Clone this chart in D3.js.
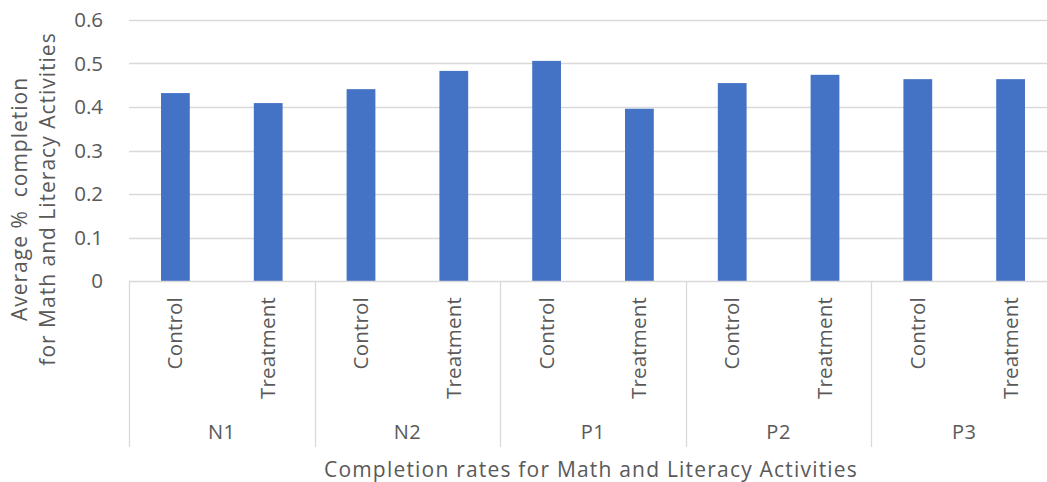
<!DOCTYPE html>
<html>
<head>
<meta charset="utf-8">
<script src="https://cdn.jsdelivr.net/npm/d3@7"></script>
<style>
  html, body { margin: 0; padding: 0; background: #fff; }
  svg { display: block; }
  text { font-family: "Open Sans", "Noto Sans", sans-serif; fill: #595959; }
</style>
</head>
<body>
<svg id="chart" width="1047" height="482"></svg>
<script>
const groups = ["N1", "N2", "P1", "P2", "P3"];
const conditions = ["Control", "Treatment"];
const controlValues = [0.432, 0.441, 0.506, 0.455, 0.464];
const treatmentValues = [0.409, 0.483, 0.396, 0.474, 0.464];
const yTicks = [0, 0.1, 0.2, 0.3, 0.4, 0.5, 0.6];
const xTitle = "Completion rates for Math and Literacy Activities";
const yTitleLines = ["Average %  completion", "for Math and Literacy Activities"];

(function () {
const svg = d3.select("#chart");
const plotLeft = 129, plotRight = 1057, plotTop = 20, plotBottom = 281, catBottom = 447;

const rows = [];
groups.forEach((g, i) => {
  rows.push({ group: g, cond: conditions[0], value: controlValues[i], key: g + "|" + conditions[0] });
  rows.push({ group: g, cond: conditions[1], value: treatmentValues[i], key: g + "|" + conditions[1] });
});

const y = d3.scaleLinear().domain([0, 0.6]).range([plotBottom, plotTop]);
const xGroup = d3.scaleBand().domain(groups).range([plotLeft, plotRight]).padding(0);
const xLeaf = d3.scaleBand().domain(rows.map(r => r.key)).range([plotLeft, plotRight])
  .paddingInner(0.69).paddingOuter(0.345);
const xSlot = d3.scaleBand().domain(rows.map(r => r.key)).range([plotLeft, plotRight]).padding(0);

// gridlines
svg.append("g").selectAll("line").data(yTicks.filter(t => t > 0)).join("line")
  .attr("x1", plotLeft).attr("x2", plotRight)
  .attr("y1", d => Math.round(y(d)) + 0.5).attr("y2", d => Math.round(y(d)) + 0.5)
  .attr("stroke", "#d9d9d9").attr("stroke-width", 1.3);

// y tick labels
svg.append("g").selectAll("text").data(yTicks).join("text")
  .attr("x", 103).attr("y", d => y(d)).attr("dy", "0.36em")
  .attr("text-anchor", "end").attr("font-size", 20.5)
  .text(d => d === 0 ? "0" : d3.format(".1f")(d));

// bars
svg.append("g").selectAll("rect").data(rows).join("rect")
  .attr("x", d => xLeaf(d.key)).attr("width", xLeaf.bandwidth())
  .attr("y", d => y(d.value)).attr("height", d => y(0) - y(d.value))
  .attr("fill", "#4472c4");

// x axis baseline
svg.append("line").attr("x1", plotLeft).attr("x2", plotRight)
  .attr("y1", plotBottom + 0.5).attr("y2", plotBottom + 0.5)
  .attr("stroke", "#d9d9d9").attr("stroke-width", 1.3);

// group separators
svg.append("g").selectAll("line").data(groups.concat(["__end"])).join("line")
  .attr("x1", d => Math.round(d === "__end" ? plotRight : xGroup(d)) + 0.5)
  .attr("x2", d => Math.round(d === "__end" ? plotRight : xGroup(d)) + 0.5)
  .attr("y1", plotBottom).attr("y2", catBottom)
  .attr("stroke", "#d9d9d9").attr("stroke-width", 1.3);

// leaf labels (rotated)
svg.append("g").selectAll("text").data(rows).join("text")
  .attr("transform", d => `translate(${xSlot(d.key) + xSlot.bandwidth() / 2 + 7},297) rotate(-90)`)
  .attr("text-anchor", "end").attr("font-size", 20.5)
  .attr("letter-spacing", "0.2px")
  .text(d => d.cond);

// group labels
svg.append("g").selectAll("text").data(groups).join("text")
  .attr("x", d => xGroup(d) + xGroup.bandwidth() / 2).attr("y", 439)
  .attr("text-anchor", "middle").attr("font-size", 20)
  .attr("letter-spacing", "0.5px")
  .text(d => d);

// x title
svg.append("text").attr("x", 591).attr("y", 477)
  .attr("text-anchor", "middle").attr("font-size", 21)
  .attr("letter-spacing", "1.2px")
  .text(xTitle);

// y title
const yt = svg.append("text").attr("transform", "translate(0,199) rotate(-90)")
  .attr("text-anchor", "middle").attr("font-size", 21).attr("letter-spacing", "1px")
  .style("white-space", "pre");
yt.append("tspan").attr("x", 0).attr("y", 27).text(yTitleLines[0]);
yt.append("tspan").attr("x", 0).attr("y", 55).text(yTitleLines[1]);
})();
</script>
</body>
</html>
